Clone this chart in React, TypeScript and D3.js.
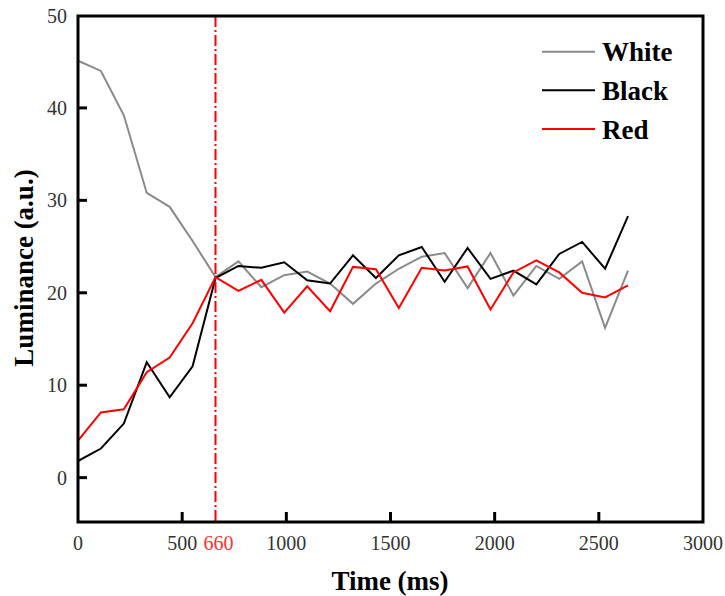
import React from "react";
import * as d3 from "d3";

const times = d3.range(25).map((i) => i * 110);
const white = [45.1, 44.0, 39.2, 30.8, 29.3, 25.6, 21.7, 23.4, 20.6, 21.9, 22.3, 21.0, 18.8, 21.0, 22.6, 23.9, 24.3, 20.5, 24.3, 19.7, 22.9, 21.5, 23.4, 16.2, 22.4];
const black = [1.8, 3.15, 5.85, 12.5, 8.7, 12.05, 21.6, 22.9, 22.7, 23.3, 21.35, 21.0, 24.05, 21.6, 24.05, 24.95, 21.2, 24.85, 21.5, 22.4, 20.9, 24.2, 25.5, 22.6, 28.3];
const red = [4.0, 7.05, 7.4, 11.4, 13.0, 16.7, 21.7, 20.2, 21.4, 17.85, 20.7, 18.0, 22.8, 22.55, 18.35, 22.7, 22.4, 22.85, 18.2, 22.2, 23.5, 22.2, 20.0, 19.5, 20.8];

const seriesNames = ["White", "Black", "Red"];
const seriesColors = ["#8a8a8a", "#000000", "#ff0000"];
const seriesData = [white, black, red];

const xTicks = [0, 500, 1000, 1500, 2000, 2500, 3000];
const yTicks = [0, 10, 20, 30, 40, 50];
const markerTime = 660;

export default function App() {
  const left = 78, right = 703, top = 16, bottom = 522;
  const x = d3.scaleLinear().domain([0, 3000]).range([left, right]);
  const y = d3.scaleLinear().domain([-4.8, 50]).range([bottom, 15.5]);
  const line = d3.line<number>().x((_, i) => x(times[i])).y((d) => y(d));
  const font = "'Liberation Serif', 'Times New Roman', serif";

  return (
    <svg width={725} height={596} style={{ position: "absolute", left: 0, top: 0, background: "#fff" }}>
      {/* data lines */}
      {seriesData.map((s, k) => (
        <path key={k} d={line(s) || ""} fill="none" stroke={seriesColors[k]} strokeWidth={2} strokeLinejoin="miter" />
      ))}
      {/* marker line */}
      <line x1={x(markerTime)} x2={x(markerTime)} y1={top} y2={bottom} stroke="#ff0000" strokeWidth={2} strokeDasharray="11,3,2,3" />
      {/* frame */}
      <rect x={left} y={top} width={right - left} height={bottom - top} fill="none" stroke="#000" strokeWidth={3} />
      {/* y ticks */}
      {yTicks.map((t) => (
        <g key={"y" + t}>
          {t < 50 && <line x1={left} x2={left + 9} y1={y(t)} y2={y(t)} stroke="#000" strokeWidth={3} />}
          <text x={67} y={y(t)} dy="0.35em" textAnchor="end" fontFamily={font} fontSize={20} fill="#333">{t}</text>
        </g>
      ))}
      {/* x ticks */}
      {xTicks.map((t) => (
        <g key={"x" + t}>
          {t > 0 && t < 3000 && <line x1={x(t)} x2={x(t)} y1={bottom} y2={bottom - 10} stroke="#000" strokeWidth={3} />}
          <text x={x(t)} y={550} textAnchor="middle" fontFamily={font} fontSize={20} fill="#333">{t}</text>
        </g>
      ))}
      <text x={x(markerTime) + 3} y={550} textAnchor="middle" fontFamily={font} fontSize={20} fill="#ff3030">{markerTime}</text>
      {/* axis titles */}
      <text x={390} y={590} textAnchor="middle" fontFamily={font} fontSize={27} fontWeight="bold" fill="#000">Time (ms)</text>
      <text transform="translate(33,268) rotate(-90)" textAnchor="middle" fontFamily={font} fontSize={27} fontWeight="bold" fill="#000">Luminance (a.u.)</text>
      {/* legend */}
      {seriesNames.map((n, k) => (
        <g key={n} transform={`translate(0, ${51.7 + k * 38.6})`}>
          <line x1={542} x2={595} y1={0} y2={0} stroke={seriesColors[k]} strokeWidth={2} />
          <text x={602} y={0} dy="0.36em" fontFamily={font} fontSize={27} fontWeight="bold" fill="#000">{n}</text>
        </g>
      ))}
    </svg>
  );
}
